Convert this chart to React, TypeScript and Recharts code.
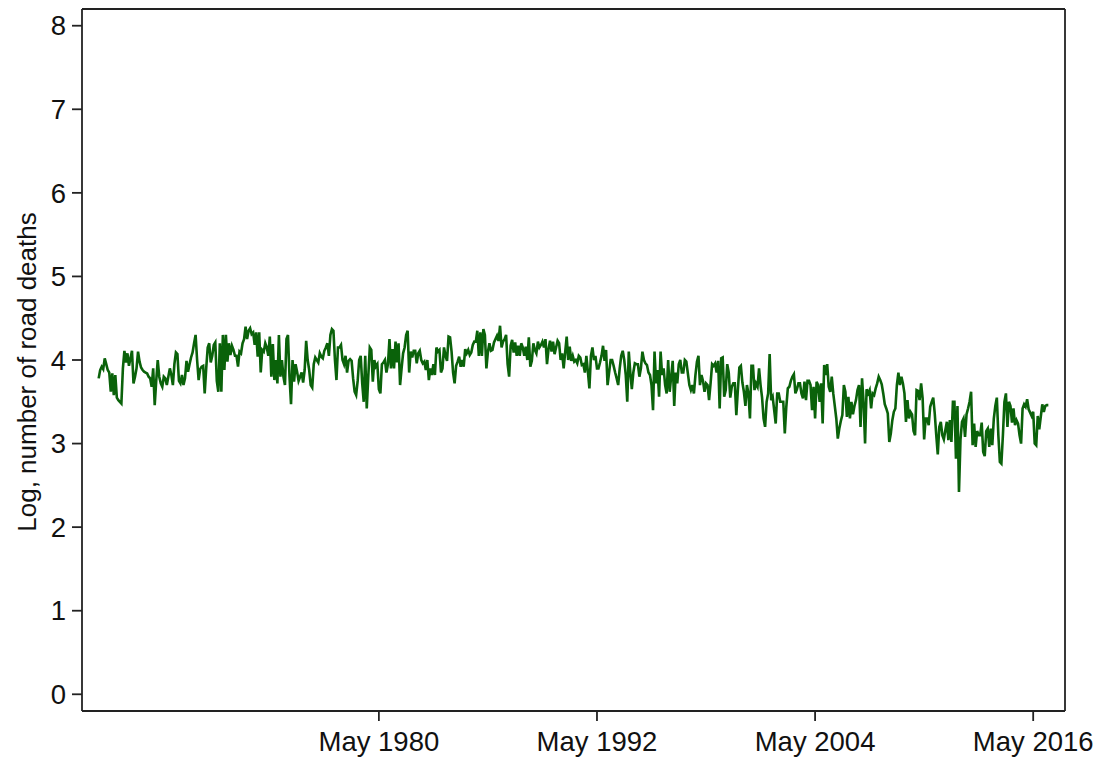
import React from 'react';
import { LineChart, Line, XAxis, YAxis, ReferenceLine } from 'recharts';

// Stata-style monthly index: months since Jan 1960
const startMonth = 59;

const logDeaths1965 = [
  3.78, 3.88, 3.92, 3.89, 4.02, 3.95, 3.88, 3.85, 3.62, 3.84,
  3.58, 3.82, 3.55, 3.52, 3.5, 3.48, 3.9, 4.11, 3.97, 4.08,
  3.93, 4.02, 4.11, 3.72, 3.8, 3.9, 4.1, 3.98, 3.91, 3.88,
  3.86, 3.85, 3.84, 3.8, 3.78, 3.68, 3.9, 3.46, 3.75, 4.0,
  3.8, 3.72, 3.68, 3.8, 3.78, 3.7, 3.8, 3.9, 3.82, 3.7,
  3.95, 4.09, 4.07, 3.75, 3.72, 3.82, 3.7, 3.78, 3.99, 3.86,
  3.95, 4.03, 4.09, 4.2, 4.3, 4.0, 3.76, 3.89, 3.92, 3.93,
  3.6, 3.9, 4.15, 4.2, 3.97, 4.05, 4.18,
];

const logDeaths1971 = [
  4.21, 3.75, 3.62, 4.2, 3.62, 4.3, 3.88, 4.3, 3.98, 4.2,
  4.06, 4.17, 4.12, 4.05, 4.05, 3.92, 4.1, 4.08, 4.2, 4.25,
  4.4, 4.25, 4.35, 4.38, 4.31, 4.33, 4.18, 4.33, 4.04, 4.33,
  3.85, 4.12, 4.1, 4.2, 4.15, 4.05, 4.28, 3.8, 4.19, 3.76,
  4.0, 3.72, 4.3, 3.8, 4.0, 3.8, 3.7, 4.25, 4.3, 3.8,
  3.47, 4.0, 3.74, 3.95, 3.86, 3.75, 3.8, 3.85, 3.73, 3.88,
  4.23, 4.0, 3.88, 3.7, 3.67, 3.95, 4.03, 4.0, 3.97, 4.08,
  4.04, 4.02, 4.11, 4.15, 4.2, 4.05, 4.3, 4.37,
];

const logDeaths1977 = [
  4.35, 4.0, 3.76, 4.15, 4.15, 4.18, 4.0, 3.95, 4.05, 3.85,
  3.99, 4.01, 3.99, 3.78, 3.62, 3.58, 3.75, 4.0, 4.05, 3.72,
  3.5, 4.05, 3.42, 3.8, 4.15, 4.12, 3.74, 4.0, 3.92, 3.95,
  3.65, 3.6, 3.95, 3.97, 4.0, 3.85, 3.95, 4.25, 3.9, 4.13,
  3.9, 4.22, 3.97, 4.2, 3.7, 3.9, 4.08, 4.15, 4.3, 4.35,
  3.85, 4.1, 4.03, 4.11, 4.11, 3.96, 4.08, 4.11, 4.0, 3.96,
  3.98, 3.88, 4.0, 3.76, 3.9, 3.82, 3.95, 3.82, 4.15, 4.1,
  4.12, 3.85, 3.9, 4.15, 4.05, 3.99, 4.28, 4.27, 4.1, 3.85,
];

const logDeaths1984 = [
  3.72, 3.93, 3.98, 4.04, 3.92, 4.0, 3.92, 4.13, 4.08, 4.12,
  4.06, 4.09, 4.18, 4.22, 4.22, 4.35, 4.05, 4.33, 4.05, 4.37,
  4.3, 3.9, 4.1, 4.2, 4.11, 4.12, 4.21, 4.25, 4.29, 4.23,
  4.41, 4.15, 4.22, 4.25, 4.3, 3.95, 3.8, 4.17, 4.24, 4.09,
  4.21, 4.05, 4.17, 4.05, 4.2, 4.15, 4.05, 4.16, 4.0, 4.27,
  3.92, 3.99, 4.2, 4.12, 4.08, 4.22, 4.15, 4.18, 4.22, 4.15,
  4.25, 3.95, 4.13, 4.23, 4.1, 4.22, 4.07, 4.15, 4.23, 4.2,
  4.0, 4.08, 3.9, 4.09, 4.28, 4.0, 4.16, 3.99, 4.05,
];

const logDeaths1991 = [
  3.98, 4.0, 3.96, 4.05, 4.03, 3.94, 3.95, 3.85, 4.05, 3.86,
  3.66, 4.05, 4.15, 4.0, 4.05, 3.9, 3.9, 3.97, 4.05, 4.17,
  3.99, 4.12, 3.7, 3.85, 4.0, 4.0, 3.93, 3.85, 3.78, 3.7,
  3.9, 4.05, 4.11, 4.0, 3.82, 3.5, 4.1, 3.85, 3.65, 3.85,
  3.96, 3.95, 3.95, 3.8, 3.9, 4.1, 4.0, 3.96, 3.94, 3.85,
  3.82, 3.7, 3.4, 4.1, 3.72, 3.88, 3.56, 4.1, 3.82, 3.9,
  3.7, 3.6, 4.0, 3.62, 3.8, 3.99, 3.45, 3.85, 3.72, 3.95,
  4.0, 3.85, 3.85, 4.0, 3.98, 3.84, 3.7, 3.64, 3.7,
];

const logDeaths1997 = [
  3.6, 3.82, 3.98, 4.05, 3.7, 3.82, 3.75, 3.62, 3.72, 3.7,
  3.52, 3.72, 3.95, 3.93, 3.96, 3.85, 3.99, 3.42, 4.02, 4.03,
  3.56, 3.64, 3.95, 3.85, 3.55, 3.68, 3.72, 3.72, 3.34, 3.64,
  3.91, 3.93, 3.73, 3.62, 3.45, 3.7, 3.6, 3.3, 3.93, 3.93,
  3.64, 3.72, 3.68, 3.9, 3.7, 3.55, 3.3, 3.2, 3.5, 3.6,
  4.07, 3.52, 3.56, 3.4, 3.24, 3.6, 3.6, 3.5, 3.5, 3.5,
  3.12, 3.44, 3.66, 3.68, 3.75, 3.8, 3.83, 3.6, 3.65, 3.72,
  3.72, 3.6, 3.54, 3.74, 3.52, 3.75, 3.75, 3.7, 3.4,
];

const logDeaths2004 = [
  3.68, 3.3, 3.74, 3.7, 3.5, 3.72, 3.24, 3.94, 3.82, 3.95,
  3.68, 3.62, 3.8, 3.6, 3.45, 3.3, 3.06, 3.18, 3.27, 3.34,
  3.7, 3.62, 3.32, 3.56, 3.3, 3.5, 3.35, 3.45, 3.52, 3.64,
  3.7, 3.2, 3.78, 3.5, 3.0, 3.65, 3.6, 3.64, 3.42, 3.6,
  3.58, 3.66, 3.72, 3.8, 3.76, 3.71, 3.6, 3.47, 3.42, 3.36,
  3.02, 3.12, 3.28, 3.38, 3.42, 3.7, 3.85, 3.7, 3.8, 3.72,
  3.6, 3.26, 3.52, 3.3, 3.38, 3.35, 3.15, 3.1, 3.64, 3.63,
  3.52, 3.72, 3.54, 3.05, 3.3, 3.3, 3.22, 3.44, 3.5,
];

const logDeaths2010 = [
  3.55, 3.36, 3.1, 2.87, 3.2, 3.26, 3.1, 3.05, 3.16, 3.26,
  3.04, 3.28, 3.02, 3.5, 3.5, 2.82, 3.45, 2.42, 3.05, 3.26,
  3.3, 3.08, 3.35, 3.42, 3.5, 3.62, 2.98, 3.24, 2.96, 3.15,
  3.1, 3.1, 3.25, 2.9, 2.85, 3.15, 3.18, 2.96, 3.18, 2.98,
  3.3, 3.45, 3.55, 3.1, 2.78, 2.76, 3.1, 3.5, 3.6, 3.2,
  3.5, 3.45, 3.25, 3.42, 3.22, 3.28, 3.24, 3.1, 3.0, 3.42,
  3.47, 3.44, 3.53, 3.41, 3.37, 3.33, 3.38, 3.0, 2.98, 3.33,
  3.17, 3.32, 3.47, 3.38, 3.45, 3.46, 3.46,
];

const xTicks = [244, 388, 532, 676];
const xTickLabels = ['May 1980', 'May 1992', 'May 2004', 'May 2016'];
const yTicks = [0, 1, 2, 3, 4, 5, 6, 7, 8];

const allValues = [
  ...logDeaths1965, ...logDeaths1971, ...logDeaths1977, ...logDeaths1984,
  ...logDeaths1991, ...logDeaths1997, ...logDeaths2004, ...logDeaths2010,
];
const data = allValues.map((v, i) => ({ month: startMonth + i, value: v }));

const FONT = '"Liberation Sans", Arial, sans-serif';
const AXIS = '#222';

const YTitle = () => (
  <text
    x={27}
    y={372}
    transform="rotate(-90 27 372)"
    textAnchor="middle"
    dominantBaseline="central"
    fontSize={26}
    fontFamily={FONT}
    fill="#111"
  >
    Log, number of road deaths
  </text>
);

export default function App() {
  return (
    <div style={{ position: 'absolute', left: 0, top: 0, background: '#fff' }}>
      <LineChart width={1106} height={765} data={data} margin={{ top: 9, right: 41, bottom: 0, left: 0 }}>
        <XAxis
          dataKey="month"
          type="number"
          domain={[48, 697]}
          ticks={xTicks}
          tickFormatter={(m: number) => xTickLabels[xTicks.indexOf(m)]}
          height={54}
          stroke={AXIS}
          strokeWidth={1.8}
          tickSize={10}
          tickMargin={10}
          tick={{ fontSize: 27.5, fontFamily: FONT, fill: '#111' }}
          allowDataOverflow
        />
        <YAxis
          type="number"
          domain={[-0.2, 8.2]}
          ticks={yTicks}
          width={82}
          stroke={AXIS}
          strokeWidth={1.8}
          tickSize={10}
          tickMargin={6}
          tick={{ fontSize: 27.5, fontFamily: FONT, fill: '#111' }}
          label={<YTitle />}
          allowDataOverflow
        />
        <ReferenceLine y={8.2} stroke={AXIS} strokeWidth={1.8} ifOverflow="visible" />
        <ReferenceLine x={697} stroke={AXIS} strokeWidth={1.8} ifOverflow="visible" />
        <Line
          type="linear"
          dataKey="value"
          stroke="#0a620a"
          strokeWidth={2.6}
          dot={false}
          isAnimationActive={false}
        />
      </LineChart>
    </div>
  );
}
